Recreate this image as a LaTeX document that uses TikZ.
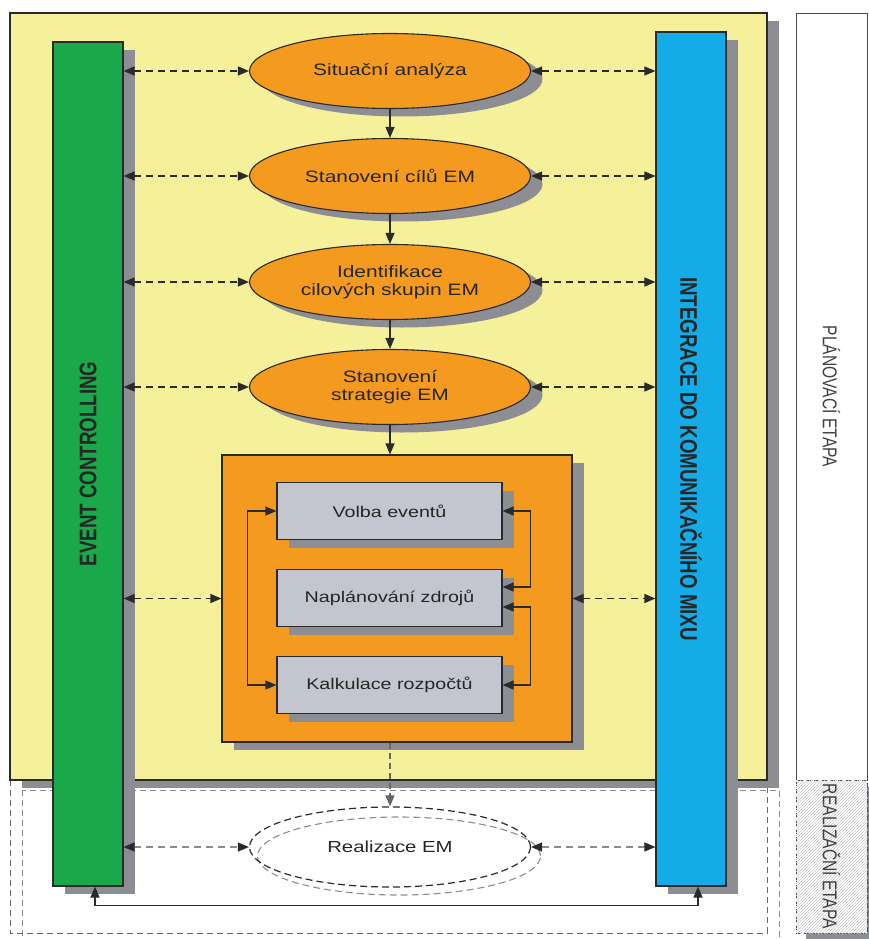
\documentclass[tikz,border=0pt]{standalone}
\usepackage{fontspec}
\usepackage{tikz}
\usetikzlibrary{arrows.meta,shapes.geometric,shadows,patterns,positioning}
\newfontfamily\wideface{Liberation Sans}[FakeStretch=1.27]
\newfontfamily\tallface{Liberation Sans}[FakeStretch=0.78]
\definecolor{emyellow}{HTML}{F5F19A}
\definecolor{emgreen}{HTML}{19A84A}
\definecolor{emblue}{HTML}{14ACE8}
\definecolor{emorange}{HTML}{F39A1F}
\definecolor{taskgray}{HTML}{C3C6CE}
\definecolor{shadowgray}{HTML}{8C8E93}
\definecolor{linecol}{HTML}{2A2A2A}
\definecolor{hatchgray}{HTML}{C8C8C8}

\begin{document}
\begin{tikzpicture}[x=1pt, y=-1pt,
  >={Triangle[length=11pt,width=9pt]},
  shade/.style={general shadow={fill=shadowgray, shadow xshift=12pt, shadow yshift=-8pt}},
  stage/.style={ellipse, draw=linecol, line width=1.1pt, fill=emorange, shade, minimum width=281pt,
    minimum height=75pt, inner sep=0pt, align=center, text=black!85,
    font=\wideface\fontsize{16.5}{17.5}\selectfont},
  task/.style={rectangle, draw=linecol, line width=1.1pt, fill=taskgray, shade, minimum width=225pt,
    minimum height=57pt, text=black!85, font=\wideface\fontsize{15.5}{18}\selectfont},
  bar/.style={rectangle, draw=linecol, line width=1.1pt, shade, minimum width=70pt, inner sep=0pt},
  bartext/.style={font=\tallface\bfseries\fontsize{24}{26}\selectfont, text=black!85},
  phasetext/.style={font=\tallface\fontsize{20}{22}\selectfont, text=black!75},
  flow/.style={->, linecol, line width=1.1pt},
  link/.style={<->, dash pattern=on 7pt off 5pt, linecol, line width=1.1pt},
  weaklink/.style={{Triangle[length=11pt,width=9pt,color=linecol]}-{Triangle[length=11pt,width=9pt,color=linecol]},
    dash pattern=on 7pt off 5pt, black!45, line width=1.3pt}]

  \useasboundingbox (0,0) rectangle (868,939);

  % ── Realizační frame (dashed) ──
  \draw[black!45, line width=0.9pt, dash pattern=on 6pt off 4pt] (22,790) rectangle (779,950);
  \draw[black!60, line width=0.9pt, dash pattern=on 6pt off 4pt] (10,780) rectangle (767,933);

  % ── Plánovací frame ──
  \path[fill=emyellow, draw=linecol, line width=1.1pt, shade] (10,13) rectangle (767,780);

  % Phase columns on the right
  \node[draw=black!70, line width=0.9pt, fill=white, minimum width=71pt, minimum height=767pt, inner sep=0pt]
    (plan) at (831.5,396.5) {};
  \node[phasetext, rotate=-90] (plantext) at (plan.center) {PLÁNOVACÍ ETAPA};
  \node[draw=black!70, line width=0.9pt, dash pattern=on 5pt off 3pt, fill=white,
    minimum width=71pt, minimum height=153pt, inner sep=0pt,
    general shadow={fill=shadowgray, shadow xshift=10pt, shadow yshift=-7pt},
    postaction={pattern=north east lines, pattern color=hatchgray}]
    (real) at (831.5,856.5) {};
  \node[phasetext, rotate=-90] (realtext) at (real.center) {REALIZAČNÍ ETAPA};

  % ── Stages ──
  \node[stage] (s1) at (390,71)  {Situační analýza};
  \node[stage] (s2) at (390,176) {Stanovení cílů EM};
  \node[stage] (s3) at (390,282) {Identifikace\\cilových skupin EM};
  \node[stage] (s4) at (390,387) {Stanovení\\strategie EM};

  % Planning block
  \node[rectangle, draw=linecol, line width=1.1pt, fill=emorange, shade, minimum width=350pt,
    minimum height=287pt] (block) at (397,598.5) {};
  \node[task] (t1) at (389.5,511) {Volba eventů};
  \node[task] (t2) at (389.5,598) {Naplánování zdrojů};
  \node[task] (t3) at (389.5,685) {Kalkulace rozpočtů};

  % Realizace
  \node[ellipse, draw=black!45, line width=1.1pt, dash pattern=on 7pt off 4pt,
    minimum width=283pt, minimum height=78pt] (realshadow) at (399,856) {};
  \node[ellipse, draw=linecol, line width=1.2pt, dash pattern=on 7pt off 4pt,
    minimum width=281pt, minimum height=80pt, inner sep=0pt, text=black!85,
    font=\wideface\fontsize{16}{18}\selectfont]
    (realem) at (390,847) {Realizace EM};

  % ── Side bars ──
  \node[bar, fill=emgreen, minimum height=844pt] (ec) at (88,464) {};
  \node[bartext, rotate=90] (ectext) at (ec.center) {EVENT CONTROLLING};
  \node[bar, fill=emblue, minimum height=854pt] (ic) at (691,459) {};
  \node[bartext, rotate=-90] (ictext) at (ic.center) {INTEGRACE DO KOMUNIKAČNÍHO MIXU};

  % ── Flow ──
  \draw[flow] (s1) -- (s2);
  \draw[flow] (s2) -- (s3);
  \draw[flow] (s3) -- (s4);
  \draw[flow] (s4.south) -- (s4.south |- block.north);
  \draw[->, black!60, dash pattern=on 6pt off 4pt, line width=1.1pt]
    (s4.south |- block.south) -- (realem.north);

  % Links to the side bars
  \foreach \s in {s1,s2,s3,s4} {
    \draw[link] (ec.east |- \s.west) -- (\s.west);
    \draw[link] (\s.east) -- (ic.west |- \s.east);
  }
  \draw[link] (ec.east |- block.west) -- (block.west);
  \draw[link] (block.east) -- (ic.west |- block.east);
  \draw[weaklink] (ec.east |- realem.west) -- (realem.west);
  \draw[weaklink] (realem.east) -- (ic.west |- realem.east);

  % Inside the planning block
  \draw[flow, <->] (t1.west) -- ++(-29,0) |- (t3.west);
  \draw[flow, <->] (t1.east) -- ++(28,0) |- ([yshift=11pt]t2.east);
  \draw[flow, <->] ([yshift=-9pt]t2.east) -- ++(28,0) |- (t3.east);

  % Feedback below
  \draw[flow, <->] ([xshift=7pt]ec.south) -- ++(0,19) -| ([xshift=7pt]ic.south);

\end{tikzpicture}
\end{document}
